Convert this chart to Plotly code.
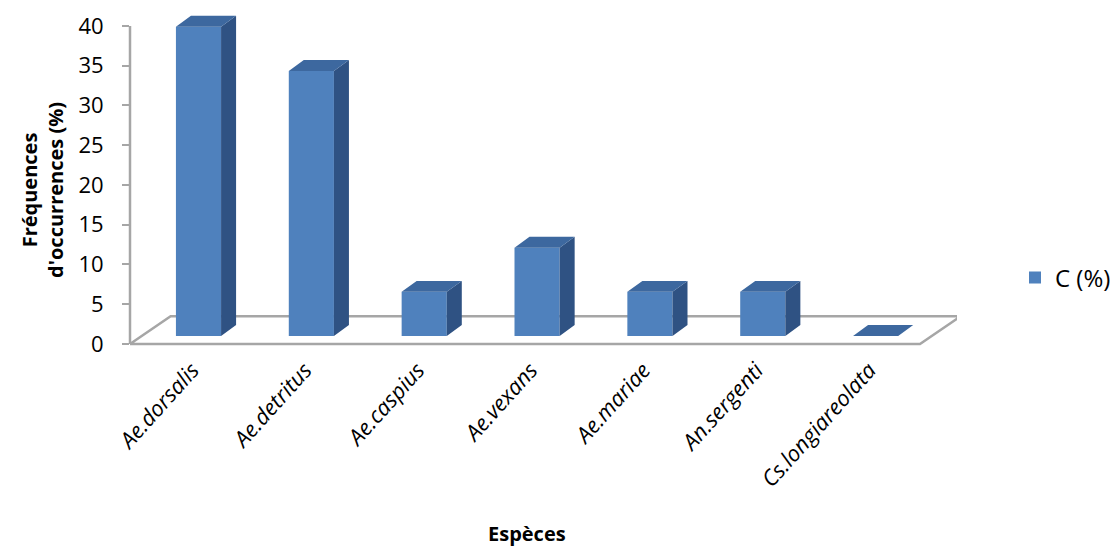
import plotly.graph_objects as go

# Occurrence frequency per species
species = ["Ae.dorsalis", "Ae.detritus", "Ae.caspius", "Ae.vexans",
           "Ae.mariae", "An.sergenti", "Cs.longiareolata"]
freq = [38.89, 33.33, 5.56, 11.11, 5.56, 5.56, 0.0]
series_name = "C (%)"
y_ticks = [0, 5, 10, 15, 20, 25, 30, 35, 40]

# 3D look parameters (in axis units)
FLOOR_DX, FLOOR_DY = 0.36, 3.5      # depth of the floor
BAR_SHIFT_X, BAR_BASE = 0.107, 1.0  # bars stand a third of the way into the floor
BAR_W = 0.40
DEPTH_DX, DEPTH_DY = 0.133, 1.38    # depth of each column

FRONT = "#4F81BD"
TOP = "#3D689F"
SIDE = "#2F5283"
GRID = "#A6A6A6"
FONT = "Open Sans"

n = len(species)
xs = [i + BAR_SHIFT_X for i in range(n)]

fig = go.Figure()

# front faces
fig.add_trace(go.Bar(x=xs, y=freq, base=BAR_BASE, width=BAR_W, name=series_name,
                     marker=dict(color=FRONT, line=dict(width=0)),
                     hovertext=species, showlegend=True))

# side and top faces built from the same values
side_x, side_y, top_x, top_y = [], [], [], []
for x, v in zip(xs, freq):
    top = BAR_BASE + v
    r = x + BAR_W / 2
    l = x - BAR_W / 2
    if v > 0:
        side_x += [r, r + DEPTH_DX, r + DEPTH_DX, r, r, None]
        side_y += [BAR_BASE, BAR_BASE + DEPTH_DY, top + DEPTH_DY, top, BAR_BASE, None]
    top_x += [l, r, r + DEPTH_DX, l + DEPTH_DX, l, None]
    top_y += [top, top, top + DEPTH_DY, top + DEPTH_DY, top, None]

fig.add_trace(go.Scatter(x=side_x, y=side_y, mode="lines", fill="toself",
                         fillcolor=SIDE, line=dict(width=0, color=SIDE),
                         hoverinfo="skip", showlegend=False))
fig.add_trace(go.Scatter(x=top_x, y=top_y, mode="lines", fill="toself",
                         fillcolor=TOP, line=dict(width=0, color=TOP),
                         hoverinfo="skip", showlegend=False))

Y_MIN, Y_MAX = -0.5, 42.0
X_MIN, X_MAX = -0.5, 6.828

# floor outline, drawn underneath the columns
x0f, x1f = -0.5, n - 0.5
floor_path = (f"M {x0f},0 L {x1f},0 L {x1f + FLOOR_DX},{FLOOR_DY} "
              f"L {x0f + FLOOR_DX},{FLOOR_DY} Z")
fig.add_shape(type="path", path=floor_path, xref="x", yref="y", layer="below",
              line=dict(color=GRID, width=2.5))

fig.update_layout(
    width=1112, height=547,
    margin=dict(l=130, r=155, t=10, b=199, autoexpand=False),
    paper_bgcolor="white", plot_bgcolor="white",
    font=dict(family=FONT, color="black"),
    barmode="overlay",
    xaxis=dict(range=[X_MIN, X_MAX], tickvals=[i + 0.05 for i in range(n)],
               ticktext=species, tickangle=-48, showgrid=False, zeroline=False,
               showline=False, ticks="",
               tickfont=dict(size=22, style="italic", family=FONT),
               ticklabelstandoff=4),
    yaxis=dict(range=[Y_MIN, Y_MAX], tickvals=y_ticks, showgrid=False, zeroline=False,
               showline=False, ticks="outside", ticklen=7, tickwidth=2, tickcolor=GRID,
               tickfont=dict(size=22, family=FONT), ticklabelstandoff=14),
    legend=dict(x=(1015 - 130) / 827, y=(348 - 278) / 338, xanchor="left",
                yanchor="middle", font=dict(size=24, family=FONT),
                bgcolor="rgba(0,0,0,0)", itemwidth=30, tracegroupgap=0),
    showlegend=True,
)

# vertical axis line from 0 to 40
span = Y_MAX - Y_MIN
fig.add_shape(type="line", xref="paper", yref="paper", x0=0, x1=0,
              y0=(0 - Y_MIN) / span, y1=(40 - Y_MIN) / span,
              line=dict(color=GRID, width=2.5))

fig.add_annotation(text="<b>Fréquences<br>d'occurrences (%)</b>", textangle=-90,
                   xref="paper", yref="paper", x=(42 - 130) / 827, y=(348 - 190) / 338,
                   xanchor="center", yanchor="middle", showarrow=False,
                   font=dict(size=20, family=FONT))
fig.add_annotation(text="<b>Espèces</b>", xref="paper", yref="paper",
                   x=(527 - 130) / 827, y=(348 - 533) / 338, xanchor="center",
                   yanchor="middle", showarrow=False, font=dict(size=20, family=FONT))

fig.write_html("out.html")
